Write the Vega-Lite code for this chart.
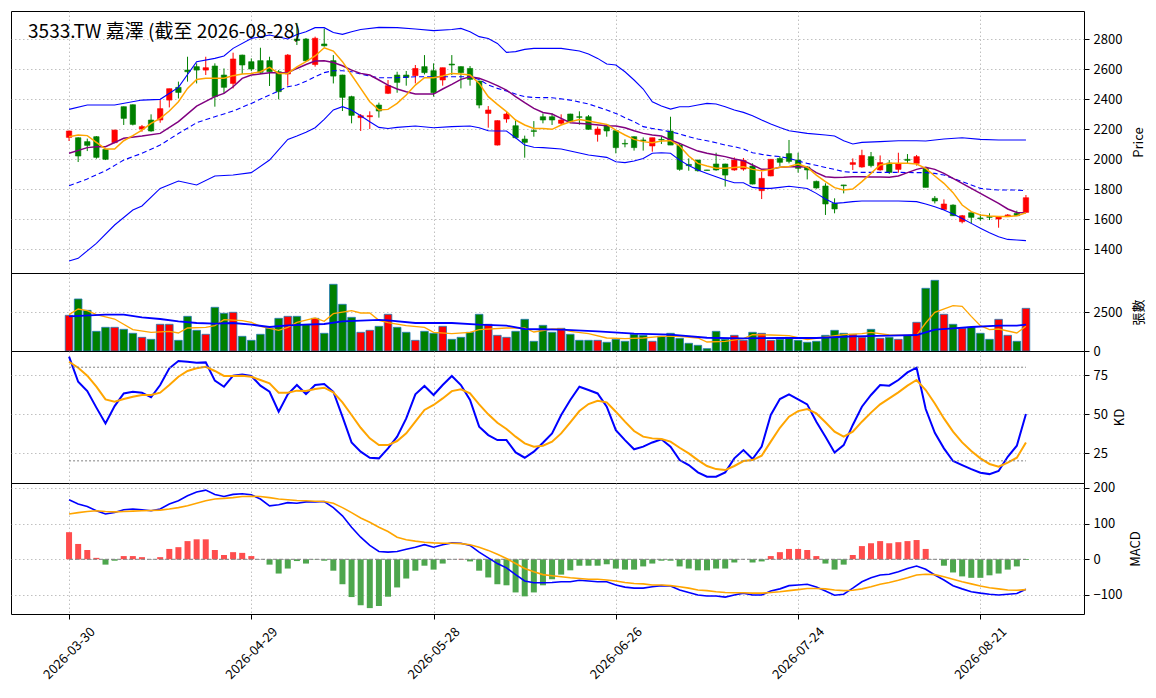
{
"$schema": "https://vega.github.io/schema/vega-lite/v6.json",
"background": "white",
"padding": {"left": 10, "top": 10, "right": 0, "bottom": 0},
"autosize": {"type": "pad"},
"spacing": 0,
"bounds": "flush",
"config": {
  "font": "Noto Sans CJK TC",
  "view": {"stroke": "#000000", "strokeWidth": 1},
  "scale": {"continuousPadding": 0},
  "axis": {"labelFont": "Noto Sans CJK TC", "titleFont": "Noto Sans CJK TC", "labelFontSize": 13, "titleFontSize": 13, "titleFontWeight": "normal", "labelColor": "#000000", "titleColor": "#000000", "tickColor": "#000000", "domain": false, "grid": true, "gridColor": "#b0b0b0", "gridDash": [1.5, 2.5], "gridWidth": 0.8, "tickSize": 5, "labelPadding": 4, "labelOverlap": false}
},
"datasets": {
"ttl": [{"x": -4.5, "y": 2807, "t": "3533.TW 嘉澤 (截至 2026-08-28)"}],
"kdref": [{"a": 0, "b": 105, "y": 80}, {"a": 0, "b": 105, "y": 20}],
"zero": [{"a": 0, "b": 105, "y": 0}],
"k": [
{"i":0,"o":2144,"h":2190,"l":2120,"c":2187,"v":2287,"m5":2149,"m10":2038,"mid":1822,"up":2331,"lo":1320,"vm5":2329,"vm20":2222,"k":86.8,"d":83.5,"dif":167,"dea":127,"hist":76},
{"i":1,"o":2142,"h":2145,"l":1980,"c":2020,"v":3334,"m5":2160,"m10":null,"mid":null,"up":null,"lo":1338,"vm5":2693,"vm20":null,"k":70.7,"d":79.7,"dif":155,"dea":131,"hist":43},
{"i":2,"o":2116,"h":2136,"l":2053,"c":2091,"v":2607,"m5":2156,"m10":2076,"mid":1867,"up":2360,"lo":null,"vm5":2586,"vm20":null,"k":64.7,"d":74.6,"dif":148,"dea":134,"hist":26},
{"i":3,"o":2149,"h":2153,"l":2002,"c":2011,"v":1261,"m5":2111,"m10":2082,"mid":null,"up":null,"lo":1438,"vm5":2329,"vm20":null,"k":54.1,"d":67.5,"dif":136,"dea":136,"hist":4},
{"i":4,"o":2064,"h":2066,"l":1993,"c":1998,"v":1517,"m5":2067,"m10":2082,"mid":1922,"up":null,"lo":null,"vm5":null,"vm20":2329,"k":44.0,"d":59.4,"dif":127,"dea":134,"hist":-15},
{"i":5,"o":2109,"h":2195,"l":2105,"c":2193,"v":1517,"m5":2067,"m10":null,"mid":null,"up":2360,"lo":1560,"vm5":2051,"vm20":null,"k":55.1,"d":57.9,"dif":131,"dea":133,"hist":-4},
{"i":6,"o":2349,"h":2350,"l":2227,"c":2271,"v":1389,"m5":2122,"m10":2138,"mid":1993,"up":null,"lo":null,"vm5":null,"vm20":2329,"k":63.2,"d":59.6,"dif":139,"dea":134,"hist":9},
{"i":7,"o":2362,"h":2364,"l":2224,"c":2231,"v":1133,"m5":2156,"m10":null,"mid":null,"up":null,"lo":1660,"vm5":1368,"vm20":null,"k":64.3,"d":61.1,"dif":141,"dea":135,"hist":9},
{"i":8,"o":2200,"h":2227,"l":2182,"c":2216,"v":876,"m5":2193,"m10":2153,"mid":2038,"up":2393,"lo":1687,"vm5":null,"vm20":2158,"k":63.7,"d":62.2,"dif":139,"dea":136,"hist":6},
{"i":9,"o":2260,"h":2298,"l":2182,"c":2187,"v":748,"m5":2238,"m10":null,"mid":null,"up":null,"lo":null,"vm5":1197,"vm20":null,"k":60.7,"d":62.2,"dif":136,"dea":137,"hist":0},
{"i":10,"o":2260,"h":2393,"l":2242,"c":2336,"v":1710,"m5":2271,"m10":2171,"mid":2093,"up":2398,"lo":1804,"vm5":null,"vm20":2051,"k":68.6,"d":63.7,"dif":141,"dea":138,"hist":6},
{"i":11,"o":2393,"h":2469,"l":2344,"c":2469,"v":1710,"m5":2320,"m10":null,"mid":null,"up":null,"lo":null,"vm5":1261,"vm20":null,"k":79.3,"d":68.6,"dif":155,"dea":141,"hist":29},
{"i":12,"o":2478,"h":2516,"l":2404,"c":2444,"v":684,"m5":2382,"m10":2249,"mid":2170,"up":2478,"lo":1853,"vm5":1154,"vm20":1902,"k":84.0,"d":73.9,"dif":164,"dea":145,"hist":34},
{"i":13,"o":2593,"h":2682,"l":2516,"c":2582,"v":2222,"m5":2471,"m10":null,"mid":null,"up":null,"lo":null,"vm5":1474,"vm20":null,"k":83.5,"d":77.6,"dif":178,"dea":150,"hist":51},
{"i":14,"o":2616,"h":2638,"l":2504,"c":2593,"v":1325,"m5":2531,"m10":2353,"mid":2242,"up":2649,"lo":1827,"vm5":null,"vm20":1795,"k":82.9,"d":79.3,"dif":189,"dea":157,"hist":56},
{"i":15,"o":2593,"h":2682,"l":2560,"c":2609,"v":1069,"m5":2538,"m10":null,"mid":null,"up":null,"lo":null,"vm5":1517,"vm20":null,"k":83.1,"d":80.3,"dif":194,"dea":164,"hist":56},
{"i":16,"o":2620,"h":2638,"l":2349,"c":2416,"v":2800,"m5":2538,"m10":2416,"mid":2282,"up":2671,"lo":1887,"vm5":1624,"vm20":1752,"k":71.4,"d":77.6,"dif":182,"dea":169,"hist":26},
{"i":17,"o":2560,"h":2604,"l":2438,"c":2478,"v":2415,"m5":2538,"m10":2438,"mid":null,"up":2687,"lo":null,"vm5":2009,"vm20":null,"k":67.5,"d":74.4,"dif":176,"dea":171,"hist":12},
{"i":18,"o":2504,"h":2709,"l":2471,"c":2667,"v":2479,"m5":2556,"m10":2482,"mid":2320,"up":2738,"lo":1893,"vm5":null,"vm20":1795,"k":74.6,"d":74.4,"dif":182,"dea":173,"hist":20},
{"i":19,"o":2693,"h":2696,"l":2567,"c":2627,"v":940,"m5":2567,"m10":2538,"mid":null,"up":null,"lo":null,"vm5":1945,"vm20":null,"k":75.4,"d":74.6,"dif":184,"dea":176,"hist":18},
{"i":20,"o":2649,"h":2671,"l":2587,"c":2600,"v":684,"m5":2571,"m10":2560,"mid":2371,"up":2804,"lo":1909,"vm5":1838,"vm20":1688,"k":74.4,"d":73.9,"dif":181,"dea":177,"hist":9},
{"i":21,"o":2656,"h":2742,"l":2567,"c":2578,"v":1069,"m5":2582,"m10":null,"mid":null,"up":null,"lo":null,"vm5":1581,"vm20":null,"k":68.2,"d":71.8,"dif":169,"dea":176,"hist":0},
{"i":22,"o":2656,"h":2682,"l":2487,"c":2582,"v":1453,"m5":2611,"m10":2576,"mid":2427,"up":2827,"lo":1993,"vm5":null,"vm20":1539,"k":64.3,"d":69.7,"dif":150,"dea":173,"hist":-15},
{"i":23,"o":2582,"h":2593,"l":2398,"c":2449,"v":2094,"m5":2571,"m10":null,"mid":null,"up":null,"lo":null,"vm5":1325,"vm20":null,"k":51.5,"d":63.7,"dif":153,"dea":169,"hist":-40},
{"i":24,"o":2567,"h":2700,"l":2489,"c":2693,"v":2222,"m5":2571,"m10":2576,"mid":2482,"up":2800,"lo":2131,"vm5":1517,"vm20":1645,"k":62.6,"d":63.7,"dif":159,"dea":167,"hist":-26},
{"i":25,"o":2800,"h":2907,"l":2760,"c":2790,"v":2222,"m5":2615,"m10":2604,"mid":2493,"up":2830,"lo":2153,"vm5":1838,"vm20":null,"k":68.6,"d":65.0,"dif":157,"dea":165,"hist":-5},
{"i":26,"o":2800,"h":2807,"l":2649,"c":2655,"v":1710,"m5":2650,"m10":2630,"mid":2518,"up":2849,"lo":2178,"vm5":null,"vm20":1688,"k":62.8,"d":64.7,"dif":161,"dea":164,"hist":-12},
{"i":27,"o":2630,"h":2816,"l":2616,"c":2805,"v":2094,"m5":2687,"m10":2653,"mid":2549,"up":2876,"lo":2209,"vm5":2116,"vm20":null,"k":68.6,"d":66.0,"dif":161,"dea":163,"hist":-1},
{"i":28,"o":2767,"h":2870,"l":2749,"c":2755,"v":1133,"m5":2742,"m10":2656,"mid":2576,"up":2876,"lo":2264,"vm5":1902,"vm20":1731,"k":69.2,"d":66.9,"dif":162,"dea":162,"hist":-4},
{"i":29,"o":2656,"h":2693,"l":2504,"c":2553,"v":4274,"m5":2720,"m10":2644,"mid":2589,"up":2844,"lo":2327,"vm5":2393,"vm20":null,"k":64.3,"d":63.9,"dif":145,"dea":157,"hist":-32},
{"i":30,"o":2560,"h":2562,"l":2320,"c":2411,"v":2992,"m5":2649,"m10":2622,"mid":2589,"up":2831,"lo":2349,"vm5":null,"vm20":1902,"k":48.3,"d":57.5,"dif":122,"dea":145,"hist":-70},
{"i":31,"o":2416,"h":2422,"l":2238,"c":2291,"v":2158,"m5":2560,"m10":2593,"mid":2582,"up":2849,"lo":2327,"vm5":2586,"vm20":null,"k":31.8,"d":49.4,"dif":90,"dea":131,"hist":-106},
{"i":32,"o":2276,"h":2300,"l":2187,"c":2289,"v":1197,"m5":2471,"m10":2571,"mid":2567,"up":2864,"lo":2289,"vm5":2436,"vm20":1945,"k":25.9,"d":41.2,"dif":62,"dea":116,"hist":-129},
{"i":33,"o":2282,"h":2318,"l":2200,"c":2289,"v":1325,"m5":2382,"m10":2560,"mid":2553,"up":null,"lo":2249,"vm5":2436,"vm20":null,"k":22.0,"d":34.4,"dif":39,"dea":104,"hist":-137},
{"i":34,"o":2360,"h":2376,"l":2276,"c":2320,"v":1581,"m5":2327,"m10":2527,"mid":2542,"up":2878,"lo":2211,"vm5":1966,"vm20":2000,"k":21.6,"d":30.1,"dif":22,"dea":90,"hist":-131},
{"i":35,"o":2438,"h":2527,"l":2433,"c":2489,"v":2351,"m5":2331,"m10":2493,"mid":null,"up":null,"lo":2204,"vm5":1815,"vm20":1966,"k":28.0,"d":30.1,"dif":20,"dea":78,"hist":-105},
{"i":36,"o":2560,"h":2582,"l":2442,"c":2511,"v":1517,"m5":2371,"m10":2467,"mid":2542,"up":2876,"lo":2211,"vm5":null,"vm20":null,"k":35.5,"d":32.7,"dif":22,"dea":62,"hist":-79},
{"i":37,"o":2560,"h":2587,"l":2489,"c":2544,"v":1197,"m5":2427,"m10":2449,"mid":null,"up":null,"lo":null,"vm5":1624,"vm20":null,"k":47.2,"d":37.6,"dif":28,"dea":55,"hist":-54},
{"i":38,"o":2556,"h":2627,"l":2504,"c":2604,"v":684,"m5":2493,"m10":2433,"mid":2549,"up":2867,"lo":2220,"vm5":null,"vm20":1795,"k":62.6,"d":45.1,"dif":34,"dea":51,"hist":-32},
{"i":39,"o":2616,"h":2693,"l":2564,"c":2576,"v":1261,"m5":2542,"m10":null,"mid":null,"up":null,"lo":null,"vm5":1517,"vm20":null,"k":68.0,"d":52.6,"dif":41,"dea":48,"hist":-18},
{"i":40,"o":2589,"h":2638,"l":2416,"c":2442,"v":1133,"m5":2542,"m10":2433,"mid":2549,"up":2856,"lo":2209,"vm5":1197,"vm20":null,"k":62.2,"d":55.8,"dif":34,"dea":46,"hist":-29},
{"i":41,"o":2527,"h":2609,"l":2489,"c":2609,"v":1581,"m5":2553,"m10":2467,"mid":null,"up":null,"lo":null,"vm5":null,"vm20":null,"k":68.6,"d":60.0,"dif":41,"dea":45,"hist":-12},
{"i":42,"o":2633,"h":2693,"l":2560,"c":2627,"v":748,"m5":2571,"m10":2498,"mid":2549,"up":2864,"lo":2216,"vm5":1111,"vm20":1795,"k":74.4,"d":64.7,"dif":46,"dea":45,"hist":0},
{"i":43,"o":2616,"h":2618,"l":2471,"c":2576,"v":876,"m5":2567,"m10":2531,"mid":null,"up":2871,"lo":null,"vm5":null,"vm20":null,"k":68.6,"d":65.8,"dif":45,"dea":44,"hist":1},
{"i":44,"o":2604,"h":2620,"l":2489,"c":2531,"v":1197,"m5":2560,"m10":2549,"mid":2549,"up":2849,"lo":2220,"vm5":1197,"vm20":null,"k":59.0,"d":63.2,"dif":39,"dea":41,"hist":-6},
{"i":45,"o":2520,"h":2522,"l":2338,"c":2360,"v":2351,"m5":2504,"m10":2538,"mid":2531,"up":2816,"lo":2209,"vm5":1368,"vm20":1688,"k":41.9,"d":56.2,"dif":20,"dea":34,"hist":-32},
{"i":46,"o":2304,"h":2353,"l":2209,"c":2327,"v":1710,"m5":2416,"m10":2516,"mid":2493,"up":2804,"lo":2189,"vm5":null,"vm20":null,"k":36.5,"d":49.8,"dif":4,"dea":25,"hist":-51},
{"i":47,"o":2093,"h":2258,"l":2090,"c":2256,"v":1004,"m5":2364,"m10":2489,"mid":2471,"up":2771,"lo":2187,"vm5":null,"vm20":null,"k":33.3,"d":44.4,"dif":-12,"dea":14,"hist":-70},
{"i":48,"o":2267,"h":2320,"l":2242,"c":2300,"v":876,"m5":2316,"m10":2460,"mid":2453,"up":2711,"lo":2187,"vm5":1474,"vm20":1624,"k":33.3,"d":40.4,"dif":-24,"dea":2,"hist":-73},
{"i":49,"o":2222,"h":2260,"l":2138,"c":2142,"v":1261,"m5":2260,"m10":2416,"mid":2433,"up":2716,"lo":2142,"vm5":null,"vm20":null,"k":25.4,"d":35.5,"dif":-43,"dea":-12,"hist":-93},
{"i":50,"o":2133,"h":2156,"l":2009,"c":2111,"v":2030,"m5":2227,"m10":2376,"mid":2416,"up":2731,"lo":2093,"vm5":1474,"vm20":1410,"k":22.0,"d":31.2,"dif":-61,"dea":-26,"hist":-104},
{"i":51,"o":2189,"h":2253,"l":2149,"c":2184,"v":620,"m5":2204,"m10":2338,"mid":2410,"up":2738,"lo":2078,"vm5":1218,"vm20":null,"k":25.9,"d":29.1,"dif":-66,"dea":-35,"hist":-93},
{"i":52,"o":2282,"h":2304,"l":2238,"c":2260,"v":1645,"m5":2204,"m10":2310,"mid":null,"up":2738,"lo":2076,"vm5":null,"vm20":null,"k":31.6,"d":29.7,"dif":-66,"dea":-43,"hist":-73},
{"i":53,"o":2282,"h":2304,"l":2227,"c":2260,"v":1197,"m5":2198,"m10":2300,"mid":2409,"up":2738,"lo":null,"vm5":1410,"vm20":null,"k":37.6,"d":32.3,"dif":-65,"dea":-46,"hist":-56},
{"i":54,"o":2238,"h":2298,"l":2227,"c":2260,"v":1453,"m5":2227,"m10":2271,"mid":null,"up":2738,"lo":2067,"vm5":1410,"vm20":1368,"k":49.4,"d":37.6,"dif":-63,"dea":-49,"hist":-43},
{"i":55,"o":2300,"h":2302,"l":2242,"c":2253,"v":1069,"m5":2249,"m10":2242,"mid":2393,"up":null,"lo":2053,"vm5":1261,"vm20":null,"k":59.0,"d":44.7,"dif":-63,"dea":-52,"hist":-31},
{"i":56,"o":2282,"h":2318,"l":2229,"c":2278,"v":684,"m5":2264,"m10":null,"mid":null,"up":2720,"lo":null,"vm5":null,"vm20":null,"k":67.5,"d":51.9,"dif":-59,"dea":-54,"hist":-18},
{"i":57,"o":2282,"h":2293,"l":2196,"c":2198,"v":684,"m5":2253,"m10":2233,"mid":2367,"up":2700,"lo":2027,"vm5":1111,"vm20":null,"k":65.4,"d":56.4,"dif":-61,"dea":-56,"hist":-18},
{"i":58,"o":2164,"h":2216,"l":2116,"c":2200,"v":684,"m5":2242,"m10":null,"mid":null,"up":2671,"lo":null,"vm5":null,"vm20":1261,"k":63.2,"d":58.5,"dif":-63,"dea":-56,"hist":-18},
{"i":59,"o":2227,"h":2229,"l":2149,"c":2187,"v":556,"m5":2231,"m10":2222,"mid":2327,"up":2633,"lo":2011,"vm5":833,"vm20":null,"k":54.7,"d":57.5,"dif":-63,"dea":-58,"hist":-14},
{"i":60,"o":2189,"h":2191,"l":2038,"c":2076,"v":748,"m5":2193,"m10":2220,"mid":2304,"up":2627,"lo":1982,"vm5":null,"vm20":null,"k":39.7,"d":51.5,"dif":-72,"dea":-61,"hist":-26},
{"i":61,"o":2104,"h":2131,"l":2078,"c":2100,"v":620,"m5":2160,"m10":2209,"mid":2276,"up":2582,"lo":1976,"vm5":791,"vm20":null,"k":33.3,"d":45.1,"dif":-78,"dea":-65,"hist":-29},
{"i":62,"o":2149,"h":2151,"l":2056,"c":2076,"v":1069,"m5":2131,"m10":2189,"mid":2249,"up":2527,"lo":1987,"vm5":null,"vm20":1111,"k":27.4,"d":39.1,"dif":-81,"dea":-68,"hist":-29},
{"i":63,"o":2127,"h":2144,"l":2056,"c":2122,"v":1004,"m5":2116,"m10":2171,"mid":2216,"up":2467,"lo":2004,"vm5":833,"vm20":null,"k":29.1,"d":35.5,"dif":-81,"dea":-69,"hist":-20},
{"i":64,"o":2087,"h":2142,"l":2049,"c":2142,"v":620,"m5":2109,"m10":2160,"mid":2204,"up":2382,"lo":2038,"vm5":null,"vm20":null,"k":31.8,"d":34.4,"dif":-77,"dea":-72,"hist":-12},
{"i":65,"o":2131,"h":2149,"l":2100,"c":2127,"v":940,"m5":2120,"m10":2153,"mid":2193,"up":2353,"lo":2042,"vm5":940,"vm20":null,"k":33.8,"d":34.0,"dif":-74,"dea":-72,"hist":-4},
{"i":66,"o":2187,"h":2282,"l":2093,"c":2093,"v":1133,"m5":2122,"m10":2127,"mid":2182,"up":2333,"lo":2038,"vm5":null,"vm20":1047,"k":29.1,"d":32.3,"dif":-75,"dea":-74,"hist":-4},
{"i":67,"o":2093,"h":2104,"l":1922,"c":1931,"v":812,"m5":2087,"m10":2104,"mid":2167,"up":2349,"lo":1993,"vm5":940,"vm20":null,"k":20.5,"d":28.4,"dif":-86,"dea":-77,"hist":-20},
{"i":68,"o":1964,"h":2004,"l":1922,"c":1956,"v":492,"m5":2020,"m10":2078,"mid":2149,"up":2349,"lo":1956,"vm5":null,"vm20":null,"k":17.3,"d":24.8,"dif":-93,"dea":-81,"hist":-26},
{"i":69,"o":1993,"h":1995,"l":1916,"c":1922,"v":363,"m5":1971,"m10":2053,"mid":2133,"up":2360,"lo":1927,"vm5":833,"vm20":null,"k":12.6,"d":20.5,"dif":-100,"dea":-86,"hist":-31},
{"i":70,"o":1927,"h":1928,"l":1923,"c":1924,"v":150,"m5":1953,"m10":2038,"mid":2122,"up":2371,"lo":1904,"vm5":577,"vm20":850,"k":9.8,"d":16.7,"dif":-103,"dea":-88,"hist":-31},
{"i":71,"o":1967,"h":2042,"l":1922,"c":1927,"v":1261,"m5":1938,"m10":2027,"mid":2109,"up":2367,"lo":1882,"vm5":null,"vm20":null,"k":9.8,"d":14.7,"dif":-103,"dea":-91,"hist":-26},
{"i":72,"o":1967,"h":1969,"l":1816,"c":1893,"v":748,"m5":1938,"m10":2016,"mid":2093,"up":2349,"lo":1860,"vm5":620,"vm20":null,"k":12.6,"d":14.1,"dif":-106,"dea":-93,"hist":-26},
{"i":73,"o":1927,"h":2011,"l":1922,"c":1993,"v":1004,"m5":1944,"m10":2000,"mid":2082,"up":2327,"lo":1842,"vm5":null,"vm20":null,"k":21.6,"d":16.7,"dif":-100,"dea":-94,"hist":-9},
{"i":74,"o":1933,"h":2007,"l":1922,"c":1991,"v":684,"m5":1949,"m10":1989,"mid":2067,"up":2311,"lo":1842,"vm5":791,"vm20":812,"k":26.9,"d":19.9,"dif":-95,"dea":-94,"hist":0},
{"i":75,"o":1953,"h":1971,"l":1831,"c":1833,"v":1197,"m5":1931,"m10":1960,"mid":2042,"up":2289,"lo":1811,"vm5":1047,"vm20":null,"k":21.2,"d":20.5,"dif":-100,"dea":-95,"hist":-9},
{"i":76,"o":1789,"h":1916,"l":1733,"c":1871,"v":1133,"m5":1922,"m10":1931,"mid":2031,"up":2260,"lo":1804,"vm5":null,"vm20":null,"k":29.1,"d":23.3,"dif":-100,"dea":-95,"hist":-6},
{"i":77,"o":1887,"h":1998,"l":1885,"c":1998,"v":684,"m5":1931,"m10":1931,"mid":2022,"up":2233,"lo":1804,"vm5":1026,"vm20":null,"k":49.4,"d":32.3,"dif":-89,"dea":-93,"hist":9},
{"i":78,"o":2004,"h":2020,"l":1953,"c":1978,"v":748,"m5":1945,"m10":1945,"mid":2016,"up":2210,"lo":1811,"vm5":null,"vm20":833,"k":59.6,"d":41.2,"dif":-83,"dea":-91,"hist":20},
{"i":79,"o":2036,"h":2127,"l":1971,"c":1984,"v":876,"m5":1950,"m10":1949,"mid":2004,"up":2189,"lo":1818,"vm5":983,"vm20":null,"k":62.6,"d":48.3,"dif":-74,"dea":-88,"hist":29},
{"i":80,"o":1993,"h":2042,"l":1909,"c":1938,"v":684,"m5":1967,"m10":1949,"mid":null,"up":null,"lo":null,"vm5":null,"vm20":null,"k":59.4,"d":51.9,"dif":-72,"dea":-85,"hist":29},
{"i":81,"o":1947,"h":1953,"l":1864,"c":1927,"v":556,"m5":1945,"m10":1947,"mid":1971,"up":2171,"lo":1804,"vm5":727,"vm20":null,"k":56.2,"d":53.2,"dif":-70,"dea":-82,"hist":26},
{"i":82,"o":1851,"h":1856,"l":1802,"c":1807,"v":620,"m5":1893,"m10":1909,"mid":null,"up":null,"lo":1771,"vm5":null,"vm20":833,"k":45.1,"d":50.4,"dif":-78,"dea":-82,"hist":9},
{"i":83,"o":1820,"h":1838,"l":1627,"c":1700,"v":1004,"m5":1849,"m10":1882,"mid":1944,"up":2160,"lo":1733,"vm5":897,"vm20":null,"k":35.5,"d":44.7,"dif":-89,"dea":-83,"hist":-12},
{"i":84,"o":1704,"h":1738,"l":1638,"c":1667,"v":1325,"m5":1809,"m10":1876,"mid":1931,"up":2153,"lo":1704,"vm5":null,"vm20":null,"k":25.4,"d":38.7,"dif":-101,"dea":-86,"hist":-29},
{"i":85,"o":1827,"h":1828,"l":1771,"c":1822,"v":1133,"m5":1793,"m10":1878,"mid":1916,"up":2122,"lo":1709,"vm5":1047,"vm20":null,"k":30.1,"d":35.5,"dif":-98,"dea":-88,"hist":-15},
{"i":86,"o":1964,"h":2004,"l":1927,"c":1976,"v":1069,"m5":1800,"m10":1882,"mid":1911,"up":2100,"lo":1716,"vm5":null,"vm20":940,"k":43.0,"d":38.7,"dif":-81,"dea":-87,"hist":12},
{"i":87,"o":1947,"h":2062,"l":1942,"c":2024,"v":876,"m5":1849,"m10":1882,"mid":1911,"up":2111,"lo":1720,"vm5":1111,"vm20":null,"k":54.7,"d":45.1,"dif":-63,"dea":-83,"hist":37},
{"i":88,"o":2016,"h":2047,"l":1944,"c":1956,"v":1389,"m5":1904,"m10":1880,"mid":null,"up":null,"lo":null,"vm5":1197,"vm20":null,"k":62.2,"d":50.9,"dif":-52,"dea":-77,"hist":45},
{"i":89,"o":1927,"h":2024,"l":1922,"c":1976,"v":812,"m5":1960,"m10":1880,"mid":1911,"up":2116,"lo":1720,"vm5":null,"vm20":null,"k":68.6,"d":56.2,"dif":-44,"dea":-70,"hist":51},
{"i":90,"o":1973,"h":1993,"l":1900,"c":1911,"v":876,"m5":1971,"m10":1878,"mid":null,"up":null,"lo":null,"vm5":1026,"vm20":983,"k":68.2,"d":60.0,"dif":-42,"dea":-65,"hist":45},
{"i":91,"o":1931,"h":2042,"l":1909,"c":1967,"v":748,"m5":1971,"m10":1887,"mid":1911,"up":2122,"lo":1720,"vm5":null,"vm20":null,"k":71.8,"d":63.9,"dif":-35,"dea":-59,"hist":48},
{"i":92,"o":1998,"h":2033,"l":1971,"c":1991,"v":1004,"m5":1971,"m10":1909,"mid":null,"up":null,"lo":null,"vm5":1004,"vm20":null,"k":76.7,"d":68.2,"dif":-26,"dea":-52,"hist":51},
{"i":93,"o":1971,"h":2027,"l":1956,"c":2016,"v":1838,"m5":1967,"m10":1931,"mid":1909,"up":2122,"lo":1716,"vm5":1004,"vm20":1026,"k":79.7,"d":71.8,"dif":-19,"dea":-44,"hist":54},
{"i":94,"o":1938,"h":1940,"l":1811,"c":1811,"v":4018,"m5":1938,"m10":1945,"mid":1909,"up":2120,"lo":1700,"vm5":1795,"vm20":null,"k":53.2,"d":65.4,"dif":-28,"dea":-42,"hist":29},
{"i":95,"o":1738,"h":1753,"l":1704,"c":1720,"v":4530,"m5":1887,"m10":1931,"mid":1904,"up":null,"lo":1682,"vm5":2479,"vm20":1368,"k":38.0,"d":56.8,"dif":-44,"dea":-43,"hist":0},
{"i":96,"o":1664,"h":1731,"l":1660,"c":1700,"v":2351,"m5":1838,"m10":1904,"mid":1893,"up":2133,"lo":1660,"vm5":null,"vm20":null,"k":28.0,"d":47.2,"dif":-58,"dea":-49,"hist":-18},
{"i":97,"o":1693,"h":1698,"l":1620,"c":1622,"v":1710,"m5":1776,"m10":1871,"mid":1871,"up":null,"lo":1633,"vm5":2906,"vm20":1453,"k":19.9,"d":38.7,"dif":-74,"dea":-56,"hist":-37},
{"i":98,"o":1582,"h":1627,"l":1571,"c":1622,"v":1453,"m5":1693,"m10":1838,"mid":1849,"up":2142,"lo":1604,"vm5":2864,"vm20":null,"k":17.3,"d":31.8,"dif":-83,"dea":-63,"hist":-48},
{"i":99,"o":1642,"h":1644,"l":1571,"c":1611,"v":1517,"m5":1649,"m10":1804,"mid":1827,"up":null,"lo":1571,"vm5":2222,"vm20":1539,"k":14.7,"d":26.3,"dif":-91,"dea":-69,"hist":-52},
{"i":100,"o":1607,"h":1633,"l":1589,"c":1602,"v":1133,"m5":1627,"m10":1771,"mid":1804,"up":2131,"lo":1538,"vm5":1624,"vm20":null,"k":12.4,"d":21.6,"dif":-95,"dea":-75,"hist":-52},
{"i":101,"o":1616,"h":1638,"l":1593,"c":1611,"v":748,"m5":1620,"m10":1738,"mid":1798,"up":null,"lo":1509,"vm5":1368,"vm20":null,"k":11.5,"d":18.0,"dif":-98,"dea":-80,"hist":-45},
{"i":102,"o":1600,"h":1618,"l":1542,"c":1616,"v":2030,"m5":1616,"m10":1704,"mid":1793,"up":2127,"lo":1482,"vm5":1410,"vm20":1624,"k":13.5,"d":16.2,"dif":-100,"dea":-83,"hist":-40},
{"i":103,"o":1616,"h":1633,"l":1615,"c":1627,"v":1004,"m5":1616,"m10":1667,"mid":1793,"up":null,"lo":1464,"vm5":null,"vm20":null,"k":22.6,"d":18.8,"dif":-98,"dea":-86,"hist":-29},
{"i":104,"o":1638,"h":1656,"l":1620,"c":1622,"v":620,"m5":1622,"m10":1644,"mid":1793,"up":2127,"lo":1460,"vm5":1154,"vm20":1624,"k":29.7,"d":22.0,"dif":-96,"dea":-87,"hist":-20},
{"i":105,"o":1644,"h":1760,"l":1642,"c":1742,"v":2735,"m5":1642,"m10":1642,"mid":1789,"up":2127,"lo":1456,"vm5":1581,"vm20":1688,"k":50.0,"d":31.8,"dif":-84,"dea":-85,"hist":-2}
]},
"data": {"name": "k"},
"vconcat": [
{
  "width": 1073, "height": 262,
  "layer": [
    {"mark": {"type": "rule", "strokeWidth": 1},
     "encoding": {"x": {"field": "i", "type": "quantitative", "scale": {"domain": [-6.37, 111.37], "nice": false, "zero": false, "padding": 0}, "axis": {"values": [0, 20, 40, 60, 80, 100], "tickCount": 20, "labels": false, "ticks": false, "title": null, "domain": false}},
      "y": {"field": "l", "type": "quantitative", "scale": {"domain": [1240, 2987], "nice": false, "zero": false}, "axis": {"orient": "right", "values": [1400, 1600, 1800, 2000, 2200, 2400, 2600, 2800], "tickCount": 20, "format": "d", "labelOverlap": false, "title": "Price", "titleAngle": 270, "titleBaseline": "top", "titlePadding": 11}},
      "y2": {"field": "h"},
      "color": {"condition": {"test": "datum.c >= datum.o", "value": "#ff0000"}, "value": "#008000"}}},
    {"mark": {"type": "bar", "width": 5.4, "strokeWidth": 0.6},
     "encoding": {"x": {"field": "i", "type": "quantitative"}, "y": {"field": "o", "type": "quantitative"},
      "y2": {"field": "c"},
      "fill": {"condition": {"test": "datum.c >= datum.o", "value": "#ff0000"}, "value": "#008000"},
      "stroke": {"condition": {"test": "datum.c >= datum.o", "value": "#ff0000"}, "value": "#008000"}}},
    {"transform": [{"filter": "isValid(datum.up)"}], "mark": {"type": "line", "color": "#0000ff", "strokeWidth": 1.1},
     "encoding": {"x": {"field": "i", "type": "quantitative"}, "y": {"field": "up", "type": "quantitative"}}},
    {"transform": [{"filter": "isValid(datum.lo)"}], "mark": {"type": "line", "color": "#0000ff", "strokeWidth": 1.1},
     "encoding": {"x": {"field": "i", "type": "quantitative"}, "y": {"field": "lo", "type": "quantitative"}}},
    {"transform": [{"filter": "isValid(datum.mid)"}], "mark": {"type": "line", "color": "#0000ff", "strokeWidth": 1.1, "strokeDash": [5, 3]},
     "encoding": {"x": {"field": "i", "type": "quantitative"}, "y": {"field": "mid", "type": "quantitative"}}},
    {"transform": [{"filter": "isValid(datum.m10)"}], "mark": {"type": "line", "color": "#800080", "strokeWidth": 1.5},
     "encoding": {"x": {"field": "i", "type": "quantitative"}, "y": {"field": "m10", "type": "quantitative"}}},
    {"transform": [{"filter": "isValid(datum.m5)"}], "mark": {"type": "line", "color": "#ffa500", "strokeWidth": 1.5},
     "encoding": {"x": {"field": "i", "type": "quantitative"}, "y": {"field": "m5", "type": "quantitative"}}},
    {"data": {"name": "ttl"},
     "mark": {"type": "text", "align": "left", "baseline": "alphabetic", "fontSize": 19, "font": "Noto Sans CJK TC", "color": "#000000"},
     "encoding": {"x": {"field": "x", "type": "quantitative"}, "y": {"field": "y", "type": "quantitative"}, "text": {"field": "t", "type": "nominal"}}}
  ]
},
{
  "width": 1073, "height": 78,
  "layer": [
    {"mark": {"type": "bar", "width": 7.6, "stroke": "#1f77b4", "strokeWidth": 0.8},
     "encoding": {"x": {"field": "i", "type": "quantitative", "scale": {"domain": [-6.37, 111.37], "nice": false, "zero": false, "padding": 0}, "axis": {"values": [0, 20, 40, 60, 80, 100], "tickCount": 20, "labels": false, "ticks": false, "title": null, "domain": false}},
      "y": {"field": "v", "type": "quantitative", "scale": {"domain": [0, 5000], "nice": false}, "axis": {"orient": "right", "values": [0, 2500], "tickCount": 20, "format": "d", "labelOverlap": false, "title": "張數", "titleAngle": 270, "titleBaseline": "top", "titlePadding": 11}},
      "fill": {"condition": {"test": "datum.c >= datum.o", "value": "#ff0000"}, "value": "#008000"}}},
    {"transform": [{"filter": "isValid(datum.vm5)"}], "mark": {"type": "line", "color": "#ffa500", "strokeWidth": 1.3},
     "encoding": {"x": {"field": "i", "type": "quantitative"}, "y": {"field": "vm5", "type": "quantitative"}}},
    {"transform": [{"filter": "isValid(datum.vm20)"}], "mark": {"type": "line", "color": "#0000ff", "strokeWidth": 1.8},
     "encoding": {"x": {"field": "i", "type": "quantitative"}, "y": {"field": "vm20", "type": "quantitative"}}}
  ]
},
{
  "width": 1073, "height": 132,
  "layer": [
    {"mark": {"type": "line", "color": "#0000ff", "strokeWidth": 2},
     "encoding": {"x": {"field": "i", "type": "quantitative", "scale": {"domain": [-6.37, 111.37], "nice": false, "zero": false, "padding": 0}, "axis": {"values": [0, 20, 40, 60, 80, 100], "tickCount": 20, "labels": false, "ticks": false, "title": null, "domain": false}},
      "y": {"field": "k", "type": "quantitative", "scale": {"domain": [5.8, 90.4], "nice": false, "zero": false}, "axis": {"orient": "right", "values": [25, 50, 75], "tickCount": 20, "format": "d", "labelOverlap": false, "title": "KD", "titleAngle": 270, "titleBaseline": "top", "titlePadding": 6}}}},
    {"mark": {"type": "line", "color": "#ffa500", "strokeWidth": 2},
     "encoding": {"x": {"field": "i", "type": "quantitative"}, "y": {"field": "d", "type": "quantitative"}}},
    {"data": {"name": "kdref"}, "mark": {"type": "rule", "color": "#808080", "strokeWidth": 1, "strokeDash": [2, 2]},
     "encoding": {"x": {"field": "a", "type": "quantitative"}, "x2": {"field": "b"}, "y": {"field": "y", "type": "quantitative"}}}
  ]
},
{
  "width": 1073, "height": 131,
  "layer": [
    {"mark": {"type": "bar", "width": 6},
     "encoding": {"x": {"field": "i", "type": "quantitative", "scale": {"domain": [-6.37, 111.37], "nice": false, "zero": false, "padding": 0}, "axis": {"values": [0, 20, 40, 60, 80, 100], "tickCount": 20, "title": null, "domain": false, "labelOverlap": false, "labelExpr": "['2026-03-30','2026-04-29','2026-05-28','2026-06-26','2026-07-24','2026-08-21'][round(datum.value/20)]", "labelAngle": -45, "labelAlign": "center", "labelBaseline": "middle", "labelPadding": 34}},
      "y": {"field": "hist", "type": "quantitative", "scale": {"domain": [-153.5, 214], "nice": false, "zero": false}, "axis": {"orient": "right", "values": [-100, 0, 100, 200], "tickCount": 20, "format": "d", "labelOverlap": false, "title": "MACD", "titleAngle": 270, "titleBaseline": "top", "titlePadding": 8}},
      "fill": {"condition": {"test": "datum.hist >= 0", "value": "#ff4d4d"}, "value": "#4da64d"}}},
    {"data": {"name": "zero"}, "mark": {"type": "rule", "color": "#808080", "strokeWidth": 1, "strokeDash": [4, 2]},
     "encoding": {"x": {"field": "a", "type": "quantitative"}, "x2": {"field": "b"}, "y": {"field": "y", "type": "quantitative"}}},
    {"mark": {"type": "line", "color": "#0000ff", "strokeWidth": 1.6},
     "encoding": {"x": {"field": "i", "type": "quantitative"}, "y": {"field": "dif", "type": "quantitative"}}},
    {"mark": {"type": "line", "color": "#ffa500", "strokeWidth": 1.6},
     "encoding": {"x": {"field": "i", "type": "quantitative"}, "y": {"field": "dea", "type": "quantitative"}}}
  ]
}
]
}
